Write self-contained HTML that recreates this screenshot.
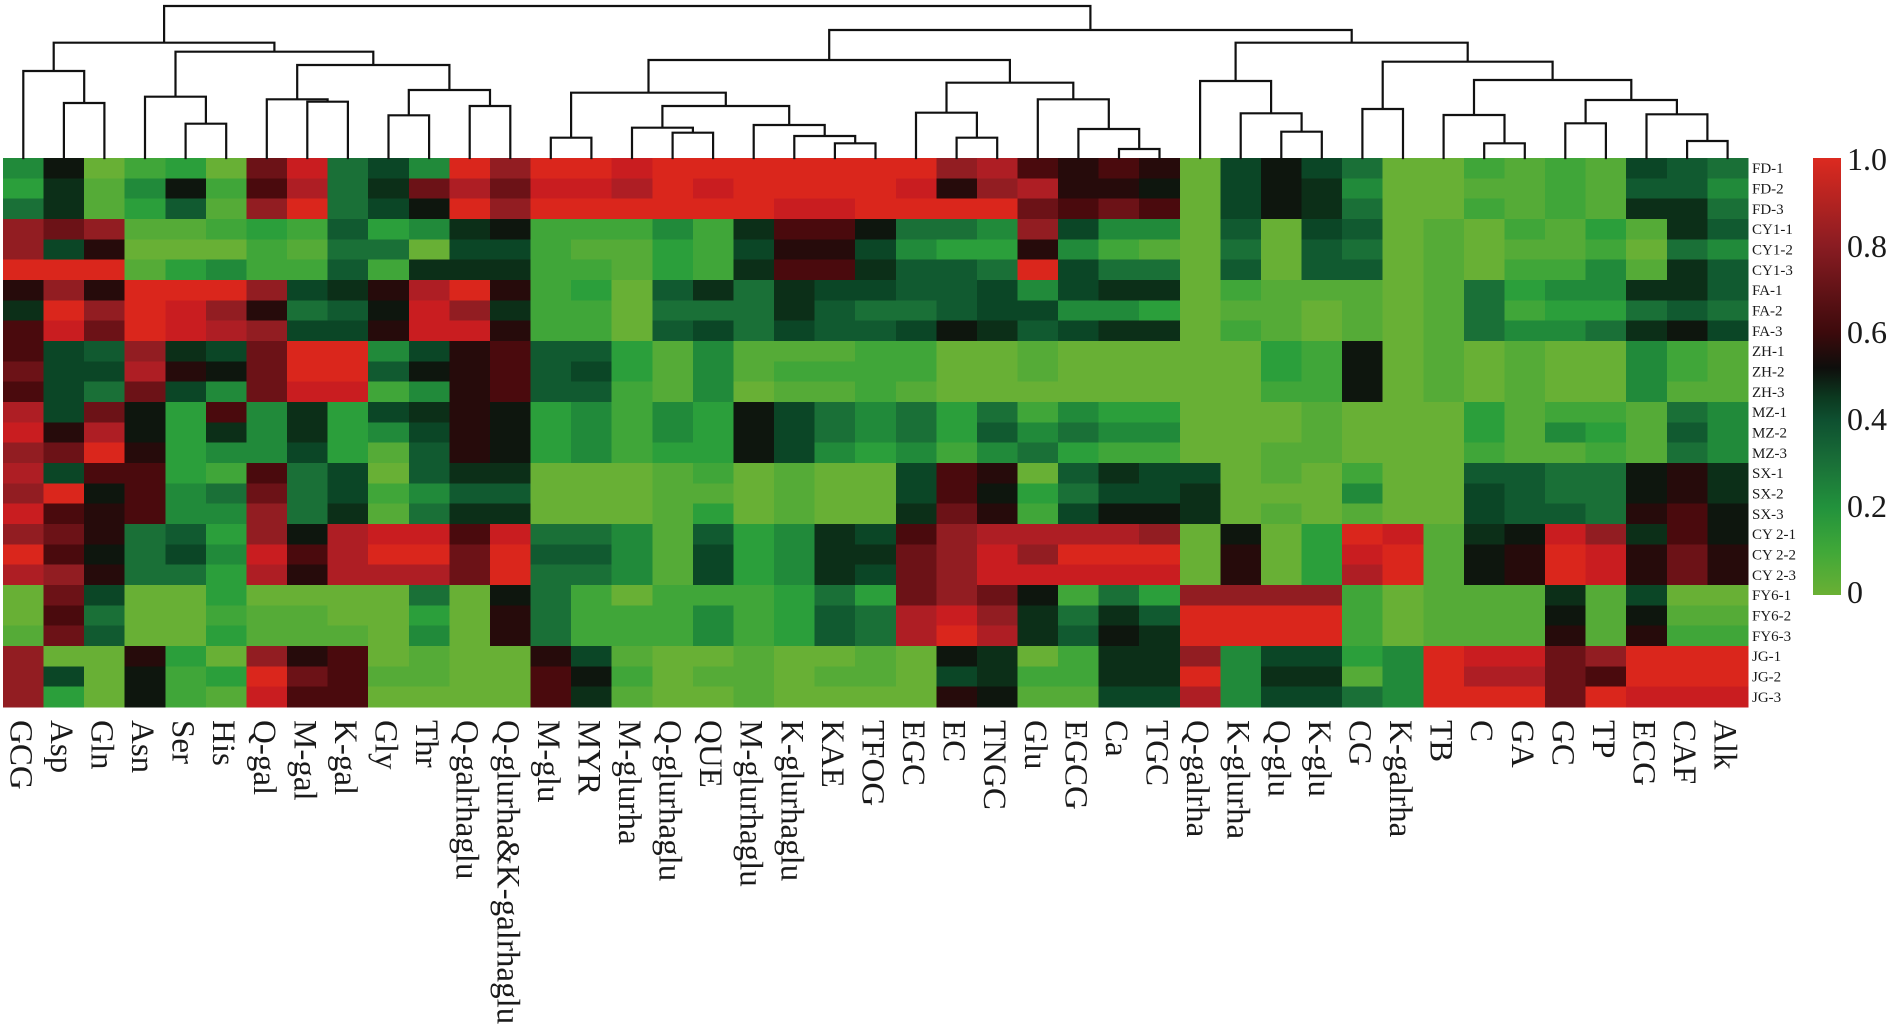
<!DOCTYPE html>
<html><head><meta charset="utf-8">
<style>html,body{margin:0;padding:0;background:#fff;width:1890px;height:1034px;overflow:hidden}</style>
</head><body>
<svg id="s" width="1890" height="1034" xmlns="http://www.w3.org/2000/svg" font-family="'Liberation Serif', serif">
<defs>
<linearGradient id="cb" x1="0" y1="0" x2="0" y2="1">
<stop offset="0" stop-color="#dc2a20"/>
<stop offset="0.2" stop-color="#8a1c22"/>
<stop offset="0.4" stop-color="#3c0a0c"/>
<stop offset="0.48" stop-color="#0e0e0c"/>
<stop offset="0.55" stop-color="#0c3a20"/>
<stop offset="0.6" stop-color="#0e5030"/>
<stop offset="0.7" stop-color="#1a7038"/>
<stop offset="0.8" stop-color="#22923c"/>
<stop offset="0.9" stop-color="#40a838"/>
<stop offset="1" stop-color="#6ab034"/>
</linearGradient>
</defs>
<g id="hm" shape-rendering="crispEdges"></g>
<g id="dg" stroke="#111" stroke-width="2.2" fill="none" stroke-linecap="square"></g>
<rect x="1813" y="158" width="28" height="437" fill="url(#cb)"/>
<g font-size="32" fill="#1a1a1a">
<text x="1847" y="170">1.0</text>
<text x="1847" y="257">0.8</text>
<text x="1847" y="343">0.6</text>
<text x="1847" y="430">0.4</text>
<text x="1847" y="517">0.2</text>
<text x="1847" y="603">0</text>
</g>
<g font-size="15" fill="#1a1a1a">
<text x="1752" y="173.2">FD-1</text>
<text x="1752" y="193.5">FD-2</text>
<text x="1752" y="213.9">FD-3</text>
<text x="1752" y="234.2">CY1-1</text>
<text x="1752" y="254.5">CY1-2</text>
<text x="1752" y="274.9">CY1-3</text>
<text x="1752" y="295.2">FA-1</text>
<text x="1752" y="315.5">FA-2</text>
<text x="1752" y="335.8">FA-3</text>
<text x="1752" y="356.2">ZH-1</text>
<text x="1752" y="376.5">ZH-2</text>
<text x="1752" y="396.8">ZH-3</text>
<text x="1752" y="417.2">MZ-1</text>
<text x="1752" y="437.5">MZ-2</text>
<text x="1752" y="457.8">MZ-3</text>
<text x="1752" y="478.2">SX-1</text>
<text x="1752" y="498.5">SX-2</text>
<text x="1752" y="518.8">SX-3</text>
<text x="1752" y="539.1">CY 2-1</text>
<text x="1752" y="559.5">CY 2-2</text>
<text x="1752" y="579.8">CY 2-3</text>
<text x="1752" y="600.1">FY6-1</text>
<text x="1752" y="620.5">FY6-2</text>
<text x="1752" y="640.8">FY6-3</text>
<text x="1752" y="661.1">JG-1</text>
<text x="1752" y="681.5">JG-2</text>
<text x="1752" y="701.8">JG-3</text>
</g>
<g font-size="33" fill="#1a1a1a">
<text transform="translate(10.3,720) rotate(90)">GCG</text>
<text transform="translate(50.9,720) rotate(90)">Asp</text>
<text transform="translate(91.5,720) rotate(90)">Gln</text>
<text transform="translate(132.0,720) rotate(90)">Asn</text>
<text transform="translate(172.6,720) rotate(90)">Ser</text>
<text transform="translate(213.2,720) rotate(90)">His</text>
<text transform="translate(253.8,720) rotate(90)">Q-gal</text>
<text transform="translate(294.4,720) rotate(90)">M-gal</text>
<text transform="translate(334.9,720) rotate(90)">K-gal</text>
<text transform="translate(375.5,720) rotate(90)">Gly</text>
<text transform="translate(416.1,720) rotate(90)">Thr</text>
<text transform="translate(456.7,720) rotate(90)">Q-galrhaglu</text>
<text transform="translate(497.3,720) rotate(90)">Q-glurha&amp;K-galrhaglu</text>
<text transform="translate(537.8,720) rotate(90)">M-glu</text>
<text transform="translate(578.4,720) rotate(90)">MYR</text>
<text transform="translate(619.0,720) rotate(90)">M-glurha</text>
<text transform="translate(659.6,720) rotate(90)">Q-glurhaglu</text>
<text transform="translate(700.2,720) rotate(90)">QUE</text>
<text transform="translate(740.7,720) rotate(90)">M-glurhaglu</text>
<text transform="translate(781.3,720) rotate(90)">K-glurhaglu</text>
<text transform="translate(821.9,720) rotate(90)">KAE</text>
<text transform="translate(862.5,720) rotate(90)">TFOG</text>
<text transform="translate(903.1,720) rotate(90)">EGC</text>
<text transform="translate(943.6,720) rotate(90)">EC</text>
<text transform="translate(984.2,720) rotate(90)">TNGC</text>
<text transform="translate(1024.8,720) rotate(90)">Glu</text>
<text transform="translate(1065.4,720) rotate(90)">EGCG</text>
<text transform="translate(1106.0,720) rotate(90)">Ca</text>
<text transform="translate(1146.5,720) rotate(90)">TGC</text>
<text transform="translate(1187.1,720) rotate(90)">Q-galrha</text>
<text transform="translate(1227.7,720) rotate(90)">K-glurha</text>
<text transform="translate(1268.3,720) rotate(90)">Q-glu</text>
<text transform="translate(1308.9,720) rotate(90)">K-glu</text>
<text transform="translate(1349.4,720) rotate(90)">CG</text>
<text transform="translate(1390.0,720) rotate(90)">K-galrha</text>
<text transform="translate(1430.6,720) rotate(90)">TB</text>
<text transform="translate(1471.2,720) rotate(90)">C</text>
<text transform="translate(1511.8,720) rotate(90)">GA</text>
<text transform="translate(1552.3,720) rotate(90)">GC</text>
<text transform="translate(1592.9,720) rotate(90)">TP</text>
<text transform="translate(1633.5,720) rotate(90)">ECG</text>
<text transform="translate(1674.1,720) rotate(90)">CAF</text>
<text transform="translate(1714.7,720) rotate(90)">Alk</text>
</g>
</svg>
<script>
(function(){
var P={a:'#68b035',b:'#55ab37',c:'#40a639',d:'#2b9f3b',e:'#218a3a',f:'#1a7037',g:'#115a30',h:'#0b4626',i:'#0c2f18',j:'#0e160e',k:'#260b0b',l:'#4a0a0d',m:'#6c1217',n:'#921d22',o:'#ae1e24',p:'#c91d20',q:'#da261c'};
var R=[
"ejacdampfhe"+"qnqqpqqqqqq"+"qnolklkahjh"+"faacbcbhgf",
"dibejclofim"+"omppoqpqqqq"+"pknokkjahji"+"eaabbcbgge",
"fibdgbnqfhj"+"qnqqqqqqppq"+"qqqmlmlahji"+"faacbcbiif",
"nmnbbcdcgde"+"ijccceci llj".replace(' ','')+"ffenheeagah"+"gabacbdbig",
"nhkaaacbffa"+"hhcbbdchkkh"+"eddkecbafag"+"fababbcafe",
"qqqbdeccgci"+"iiccbdcilli"+"ggfqhffagag"+"gabaccebig",
"knkqqqnhiko"+"qkcdagifihh"+"gghehiiacbb"+"babfdeeiig",
"iqnqpnkfgjp"+"niccafffigf"+"fghheedabba"+"babfcddfgf",
"lpmqponhhkp"+"pkccaghfhgg"+"hjighiiacba"+"babfeefijh",
"lhgnihmqqeh"+"klggdbebbbc"+"caabaaaaadc"+"jababaaecb",
"mhhokjmqqgj"+"klghdbebccc"+"caabaaaaadc"+"jababaaecb",
"lhfmhemppce"+"klggcbeabbc"+"baaaaaaaacc"+"jababaaebb",
"ohmjdleidhi"+"kjdecedjhfe"+"fdfceddaaab"+"aaadbccbfe",
"pkojdieideh"+"kjdecedjhfe"+"fdgefeeaaab"+"aaadbedbge",
"nmqkdeehdbg"+"kjdecddjhed"+"ecefdccaabb"+"aaacbbcbfe",
"ohlldclfhag"+"iiaaabcabaa"+"hlkagihhaba"+"caaggffjki",
"nqjlefmfhce"+"ggaaabbabaa"+"hljdfhhiaaa"+"eaahgffjki",
"plkleenfibf"+"iiaaabdabaa"+"imkchjjiaba"+"baahggfklj",
"nmkfgdnjopp"+"lpffebgdeih"+"lnoooonajad"+"qpbijpnilj",
"qljfheploqq"+"mqggebhdeii"+"mnpnqqqakad"+"pqbjkqpkmk",
"onkffdokooo"+"mqffebhdeih"+"mnpppppakad"+"oqbjkqpkmk",
"amhaadaaaaf"+"ajfcacccdfd"+"mnmjcfdnnnn"+"cabbbibhaa",
"alfaacbbaad"+"akfcccecdgf"+"opnifigqqqq"+"cabbbjbjbb",
"bmgaadbbbae"+"akfcccecdgf"+"oqoigjiqqqq"+"cabbbkbkcc",
"naakdanklab"+"aakhbaabaab"+"ajiaciinehh"+"deqppmnqqq",
"nhajcdqmlbb"+"aaljcabbabb"+"ahicciiqeii"+"beqoomlqqq",
"ndajcbpllaa"+"aalibaabaaa"+"akjbbhhoehh"+"feqqqmqppp"
];
var X0=3,CW=40.58,Y0=158,RH=20.33,s='';
for(var r=0;r<R.length;r++){var row=R[r];for(var c=0;c<43;c++){var ch=row.charAt(c);var col=P[ch]||'#68b035';
s+='<rect x="'+(X0+CW*c).toFixed(2)+'" y="'+(Y0+RH*r).toFixed(2)+'" width="'+(CW+0.7).toFixed(2)+'" height="'+(RH+0.7).toFixed(2)+'" fill="'+col+'"/>';}}
document.getElementById('hm').innerHTML=s;
function cx(i){return X0+CW*(i+0.5);}
var L=[42.7,[71,0,[103,1,2]],[51.7,[96.7,3,[123.7,4,5]],[65,[99.3,6,[101.7,7,8]],[90,[115.3,9,10],[106,11,12]]]]];
var M=[60,[92.7,[137.7,13,14],[106,[127.7,15,[132.7,16,17]],[125,18,[136,19,[143.3,20,21]]]]],[82.7,[112.7,22,[137.7,23,24]],[99.3,25,[129,26,[149,27,28]]]]];
var RR=[42.7,[81,29,[113.3,30,[131.7,31,32]]],[61.7,[109,33,34],[80,[115,35,[143.3,36,37]],[100,[123.3,38,39],[114.3,40,[141,41,42]]]]]];
var ROOT=[6,L,[30,M,RR]];
var d='';
function draw(n){
 if(typeof n==='number'){return [cx(n),158];}
 var a=draw(n[1]),b=draw(n[2]),y=n[0];
 d+='M'+a[0].toFixed(1)+' '+a[1]+'V'+y+'H'+b[0].toFixed(1)+'V'+b[1];
 return [(a[0]+b[0])/2,y];
}
draw(ROOT);
document.getElementById('dg').innerHTML='<path d="'+d+'"/>';
})();
</script>
</body></html>
